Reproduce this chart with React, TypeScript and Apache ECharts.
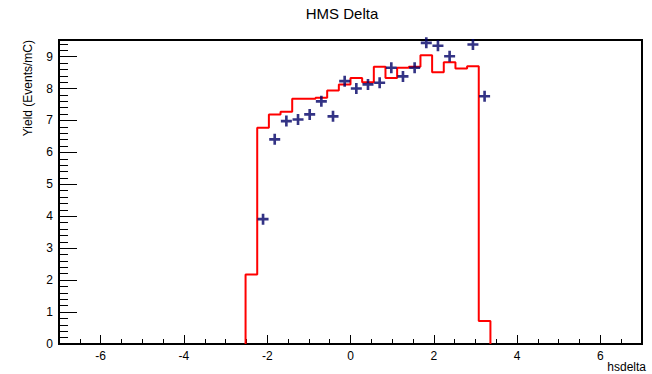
import React, { useEffect, useRef } from "react";
import * as echarts from "echarts";

const titleText = "HMS Delta";
const xTitle = "hsdelta";
const yTitle = "Yield (Events/mC)";

const xRange = [-7, 7];
const yRange = [0, 9.52];
const xTickLabels = [-6, -4, -2, 0, 2, 4, 6];
const yTickLabels = [0, 1, 2, 3, 4, 5, 6, 7, 8, 9];

// MC histogram (red): bin low edges and contents
const histLowEdges = [
  -2.52, -2.24, -1.96, -1.68, -1.4, -1.12, -0.84, -0.56, -0.28, 0.0, 0.28,
  0.56, 0.84, 1.12, 1.4, 1.68, 1.96, 2.24, 2.52, 2.8, 3.08,
];
const histHighEdge = 3.36;
const histValues = [
  2.18, 6.77, 7.19, 7.27, 7.68, 7.68, 7.71, 7.94, 8.13, 8.33, 8.2, 8.68, 8.33,
  8.65, 8.68, 9.04, 8.51, 8.82, 8.63, 8.7, 0.72,
];

// Data points (blue crosses): bin centres and yields
const pointX = [
  -2.1, -1.82, -1.54, -1.26, -0.98, -0.7, -0.42, -0.14, 0.14, 0.42, 0.7, 0.98,
  1.26, 1.54, 1.82, 2.1, 2.38, 2.94, 3.22,
];
const pointY = [
  3.91, 6.41, 6.98, 7.03, 7.19, 7.6, 7.13, 8.23, 8.0, 8.13, 8.18, 8.65, 8.38,
  8.65, 9.43, 9.34, 9.01, 9.38, 7.76,
];

const FONT = "'Liberation Sans', Arial, sans-serif";
const TITLE_FONT = "'Liberation Sans Narrow', 'Liberation Sans', Arial, sans-serif";
const crossPath = "path://M3.8,0H6.2V3.8H10V6.2H6.2V10H3.8V6.2H0V3.8H3.8Z";

export default function App() {
  const ref = useRef<HTMLDivElement>(null);

  useEffect(() => {
    if (!ref.current) return;
    const chart = echarts.init(ref.current, undefined, { renderer: "svg" });

    const histLine: number[][] = [[histLowEdges[0], 0]];
    for (let i = 1; i < histLowEdges.length; i++) {
      histLine.push([histLowEdges[i], histValues[i - 1]]);
    }
    histLine.push([histHighEdge, histValues[histValues.length - 1]]);
    histLine.push([histHighEdge, 0]);

    const points = pointX.map((x, i) => [x, pointY[i]]);

    chart.setOption({
      animation: false,
      backgroundColor: "#fff",
      grid: {
        left: 59,
        right: 10,
        top: 40,
        bottom: 30,
        show: true,
        borderColor: "#000",
        borderWidth: 2,
      },
      xAxis: [
        {
          type: "value",
          min: xRange[0],
          max: xRange[1],
          interval: 0.5,
          position: "bottom",
          axisLine: { onZero: false, lineStyle: { color: "#000", width: 2 } },
          axisTick: { inside: true, length: 5, lineStyle: { color: "#000", width: 1 } },
          axisLabel: { show: false },
          splitLine: { show: false },
        },
        {
          type: "value",
          min: xRange[0],
          max: xRange[1],
          position: "bottom",
          axisLine: { show: false, onZero: false },
          axisTick: {
            inside: true,
            length: 9,
            customValues: xTickLabels,
            lineStyle: { color: "#000", width: 1 },
          },
          axisLabel: {
            customValues: xTickLabels,
            color: "#000",
            fontSize: 12,
            fontFamily: FONT,
            margin: 6,
          },
          splitLine: { show: false },
        },
      ],
      yAxis: [
        {
          type: "value",
          min: yRange[0],
          max: yRange[1],
          interval: 0.2,
          position: "left",
          axisLine: { show: true, onZero: false, lineStyle: { color: "#000", width: 2 } },
          axisTick: { inside: true, length: 9, lineStyle: { color: "#000", width: 1 } },
          axisLabel: { show: false },
          splitLine: { show: false },
        },
        {
          type: "value",
          min: yRange[0],
          max: yRange[1],
          position: "left",
          axisLine: { show: false, onZero: false },
          axisTick: {
            inside: true,
            length: 18,
            customValues: yTickLabels,
            lineStyle: { color: "#000", width: 1 },
          },
          axisLabel: {
            customValues: yTickLabels,
            color: "#000",
            fontSize: 12,
            fontFamily: FONT,
            margin: 6,
          },
          splitLine: { show: false },
        },
      ],
      graphic: [
        {
          type: "text",
          x: 342,
          y: 13,
          style: {
            text: titleText,
            fill: "#000",
            font: `15px ${TITLE_FONT}`,
            align: "center",
            verticalAlign: "middle",
          },
        },
        {
          type: "text",
          x: 646,
          y: 367,
          style: {
            text: xTitle,
            fill: "#000",
            font: `12px ${FONT}`,
            align: "right",
            verticalAlign: "middle",
          },
        },
        {
          type: "text",
          x: 28,
          y: 40,
          rotation: Math.PI / 2,
          style: {
            text: yTitle,
            fill: "#000",
            font: `12px ${FONT}`,
            align: "right",
            verticalAlign: "middle",
          },
        },
      ],
      series: [
        {
          type: "line",
          name: "MC",
          xAxisIndex: 0,
          yAxisIndex: 0,
          step: "start",
          symbol: "none",
          lineStyle: { color: "#ff0000", width: 2 },
          data: histLine,
          z: 3,
        },
        {
          type: "scatter",
          name: "Data",
          xAxisIndex: 0,
          yAxisIndex: 0,
          symbol: crossPath,
          symbolSize: 11,
          itemStyle: { color: "#000066" },
          data: points,
          z: 4,
        },
      ],
    });

    return () => chart.dispose();
  }, []);

  return (
    <div
      ref={ref}
      style={{ position: "absolute", left: 0, top: 0, width: 652, height: 374 }}
    />
  );
}
